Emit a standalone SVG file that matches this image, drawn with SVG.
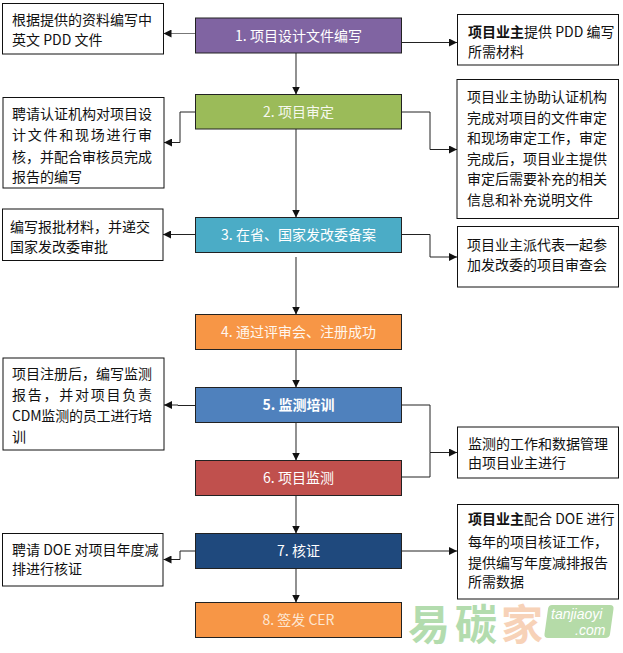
<svg xmlns="http://www.w3.org/2000/svg" width="623" height="653" viewBox="0 0 623 653">
<defs>
<marker id="ah" viewBox="0 0 8 8" refX="8" refY="4" markerWidth="8" markerHeight="8" markerUnits="userSpaceOnUse" orient="auto">
<path d="M0,0 L8,4 L0,8 z" fill="#111"/>
</marker>
<style>
.t{font-family:"Noto Sans CJK SC","Liberation Sans",sans-serif;font-size:14px;fill:#111}
.m{font-family:"Noto Sans CJK SC","Liberation Sans",sans-serif;font-size:14px;fill:#fff;text-anchor:middle}
.box{fill:#fff;stroke:#111;stroke-width:1}
.step{stroke:#222;stroke-width:1}
.c{fill:none;stroke:#222;stroke-width:1;marker-end:url(#ah)}
.v{fill:none;stroke:#555;stroke-width:1.3;marker-end:url(#ah)}
.wm{font-family:"Noto Sans CJK SC",sans-serif;font-size:42px;font-weight:700}
.wt{font-family:"Liberation Sans",sans-serif;font-size:14px;font-style:italic;fill:#fff}
</style>
</defs>
<rect width="623" height="653" fill="#fff"/>

<g id="connectors">
<path class="v" d="M296,53 V94.5"/>
<path class="v" d="M296,129 V217.5"/>
<path class="v" d="M296,257 V314.5"/>
<path class="v" d="M296,349.5 V387.5"/>
<path class="v" d="M296,422.5 V460.5"/>
<path class="v" d="M296,495.5 V533.5"/>
<path class="v" d="M296,568.5 V602.5"/>
<path class="c" style="stroke:#777" d="M195.5,33.5 H163.5"/>
<path class="c" d="M195.5,112 H180 V142.5 H164"/>
<path class="c" d="M195.5,234.5 H163"/>
<path class="c" d="M195.5,405.5 H178 V405 H164"/>
<path class="c" d="M195.5,551 H180 V559.5 H163.5"/>
<path class="c" d="M401.5,42.5 H457"/>
<path class="c" d="M401.5,112 H430 V149.5 H457"/>
<path class="c" d="M401.5,234.5 H430 V257 H457"/>
<path class="c" d="M401.5,405 H430 V452.5 H457"/>
<path fill="none" stroke="#222" stroke-width="1" d="M401.5,477 H430 V452.5"/>
<path class="c" d="M401.5,551 H457"/>
</g>

<g id="step1"><rect class="step" x="195.5" y="18" width="206" height="35" fill="#8064A2"/><text class="m" x="298.5" y="40.5">1. 项目设计文件编写</text></g>
<g id="step2"><rect class="step" x="195.5" y="94.5" width="206" height="34.5" fill="#9BBB59"/><text class="m" x="298.5" y="117" style="fill:#f6f8ee">2. 项目审定</text></g>
<g id="step3"><rect class="step" x="195.5" y="217.5" width="206" height="35" fill="#4BACC6"/><text class="m" x="298.5" y="240">3. 在省、国家发改委备案</text></g>
<g id="step4"><rect class="step" x="195.5" y="314.5" width="206" height="35" fill="#F79646"/><text class="m" x="298.5" y="337" style="fill:#fff6ee">4. 通过评审会、注册成功</text></g>
<g id="step5"><rect class="step" x="195.5" y="387.5" width="206" height="35" fill="#4F81BD"/><text class="m" x="298.5" y="410" font-weight="700">5. 监测培训</text></g>
<g id="step6"><rect class="step" x="195.5" y="460.5" width="206" height="35" fill="#C0504D"/><text class="m" x="298.5" y="483">6. 项目监测</text></g>
<g id="step7"><rect class="step" x="195.5" y="533.5" width="206" height="35" fill="#1F497D"/><text class="m" x="298.5" y="556">7. 核证</text></g>
<g id="step8"><rect class="step" x="195.5" y="602.5" width="206" height="35" fill="#F79646"/><text class="m" x="298.5" y="625" style="fill:#fde6d2">8. 签发 CER</text></g>

<g id="left1"><rect class="box" x="2.5" y="3.5" width="161" height="50.5"/>
<text class="t" x="12" y="24.5">根据提供的资料编写中</text><text class="t" x="12" y="44.5">英文 PDD 文件</text></g>
<g id="left2"><rect class="box" x="3" y="97.5" width="161" height="90.5"/>
<text class="t" x="12" y="118.5">聘请认证机构对项目设</text>
<text class="t" x="12" y="140" textLength="140" lengthAdjust="spacing">计文件和现场进行审</text>
<text class="t" x="12" y="161.5">核，并配合审核员完成</text>
<text class="t" x="12" y="182">报告的编写</text></g>
<g id="left3"><rect class="box" x="2.5" y="209" width="160.5" height="51.5"/>
<text class="t" x="10" y="232">编写报批材料，并递交</text><text class="t" x="10" y="251.5">国家发改委审批</text></g>
<g id="left5"><rect class="box" x="3" y="358" width="161" height="92"/>
<text class="t" x="12" y="378.5">项目注册后，编写监测</text>
<text class="t" x="12" y="400" textLength="140" lengthAdjust="spacing">报告，并对项目负责</text>
<text class="t" x="12" y="421" textLength="140" lengthAdjust="spacing">CDM监测的员工进行培</text>
<text class="t" x="12" y="442">训</text></g>
<g id="left7"><rect class="box" x="2.5" y="533.5" width="160.5" height="52.5"/>
<text class="t" x="12" y="554.5">聘请 DOE 对项目年度减</text><text class="t" x="12" y="573.5">排进行核证</text></g>

<g id="right1"><rect class="box" x="457.5" y="14.5" width="161" height="50.5"/>
<text class="t" x="468" y="37"><tspan font-weight="700">项目业主</tspan>提供 PDD 编写</text><text class="t" x="468" y="57">所需材料</text></g>
<g id="right2"><rect class="box" x="457" y="79.5" width="161.5" height="139"/>
<text class="t" x="467" y="102">项目业主协助认证机构</text>
<text class="t" x="467" y="122.5">完成对项目的文件审定</text>
<text class="t" x="467" y="143">和现场审定工作，审定</text>
<text class="t" x="467" y="163.5">完成后，项目业主提供</text>
<text class="t" x="467" y="184">审定后需要补充的相关</text>
<text class="t" x="467" y="204.5">信息和补充说明文件</text></g>
<g id="right3"><rect class="box" x="457.5" y="226.5" width="161" height="60.5"/>
<text class="t" x="467" y="250">项目业主派代表一起参</text><text class="t" x="467" y="270">加发改委的项目审查会</text></g>
<g id="right56"><rect class="box" x="457.5" y="427" width="161" height="51"/>
<text class="t" x="468" y="448.5">监测的工作和数据管理</text><text class="t" x="468" y="467.5">由项目业主进行</text></g>
<g id="right7"><rect class="box" x="457.5" y="504.5" width="161" height="94.5"/>
<text class="t" x="468" y="524"><tspan font-weight="700">项目业主</tspan>配合 DOE 进行</text>
<text class="t" x="468" y="546.5">每年的项目核证工作，</text>
<text class="t" x="468" y="568">提供编写年度减排报告</text>
<text class="t" x="468" y="587">所需数据</text></g>

<g id="watermark">
<text class="wm" x="408" y="640" fill="#b3dcae" letter-spacing="5">易碳</text>
<text class="wm" x="501" y="640" fill="#f7d2b8">家</text>
<path d="M552,605 H610 Q614,605 613.5,609 L610,634 Q609.5,638 605,638 H548 Q544,638 544.5,634 L548,609 Q548.5,605 552,605 z" fill="#b5dba8"/>
<text class="wt" x="551" y="619">tanjiaoyi</text>
<text class="wt" x="575" y="635">.com</text>
</g>
</svg>
